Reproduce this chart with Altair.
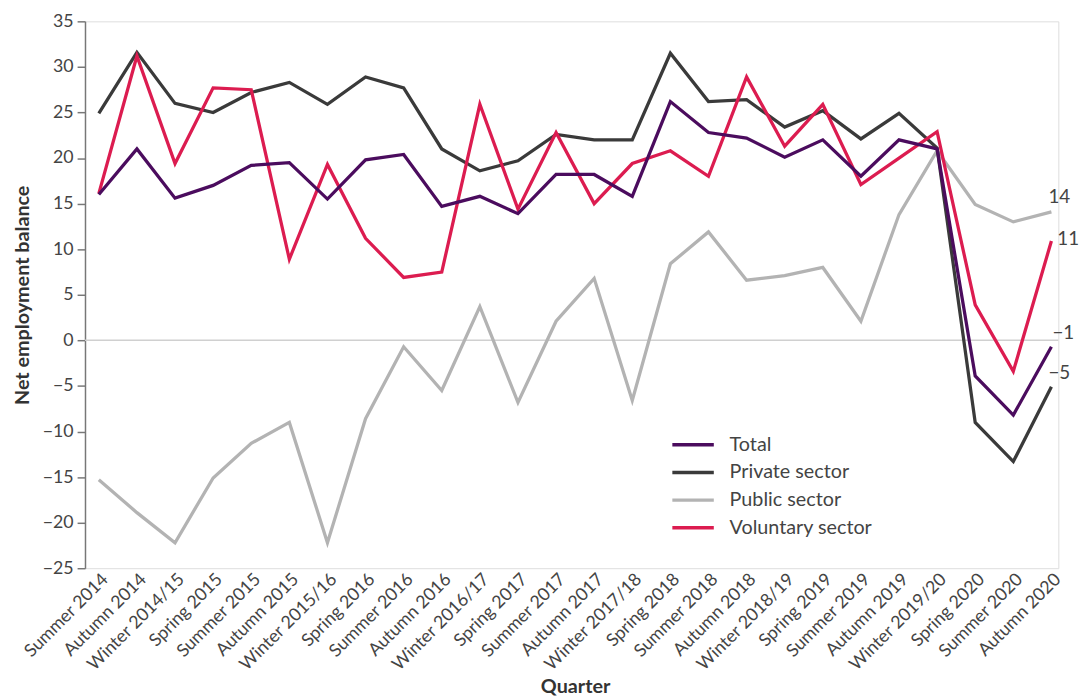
import altair as alt
import pandas as pd

quarters = ["Summer 2014", "Autumn 2014", "Winter 2014/15", "Spring 2015", "Summer 2015",
            "Autumn 2015", "Winter 2015/16", "Spring 2016", "Summer 2016", "Autumn 2016",
            "Winter 2016/17", "Spring 2017", "Summer 2017", "Autumn 2017", "Winter 2017/18",
            "Spring 2018", "Summer 2018", "Autumn 2018", "Winter 2018/19", "Spring 2019",
            "Summer 2019", "Autumn 2019", "Winter 2019/20", "Spring 2020", "Summer 2020",
            "Autumn 2020"]

total = [16.0, 21.0, 15.6, 17.0, 19.2, 19.5, 15.5, 19.8, 20.4, 14.7, 15.8, 13.9, 18.2,
         18.2, 15.8, 26.2, 22.8, 22.2, 20.1, 22.0, 18.0, 22.0, 21.0, -3.9, -8.2, -0.7]
private = [24.9, 31.6, 26.0, 25.0, 27.2, 28.3, 25.9, 28.9, 27.7, 21.0, 18.6, 19.7, 22.6,
           22.0, 22.0, 31.5, 26.2, 26.4, 23.4, 25.2, 22.1, 24.9, 21.1, -9.0, -13.3, -5.1]
public = [-15.3, -18.9, -22.2, -15.1, -11.3, -9.0, -22.2, -8.6, -0.7, -5.5, 3.7, -6.8, 2.1,
          6.8, -6.6, 8.4, 11.9, 6.6, 7.1, 8.0, 2.1, 13.8, 20.8, 14.9, 13.0, 14.1]
voluntary = [16.1, 31.2, 19.4, 27.7, 27.5, 8.9, 19.3, 11.2, 6.9, 7.5, 25.9, 14.4, 22.8,
             15.0, 19.4, 20.8, 18.0, 28.9, 21.3, 25.9, 17.1, 20.0, 22.9, 3.9, -3.4, 10.9]

series_names = ["Total", "Private sector", "Public sector", "Voluntary sector"]
series_values = [total, private, public, voluntary]
series_colors = ["#4b0c5e", "#3a3a3a", "#b3b3b3", "#dc1c50"]

rows = []
for name, vals in zip(series_names, series_values):
    for q, v in zip(quarters, vals):
        rows.append({"Quarter": q, "Series": name, "Value": v})
df = pd.DataFrame(rows)

FONT = "Lato"
TEXT_COLOR = "#444444"

x_enc = alt.X("Quarter:N", sort=quarters, title="Quarter",
              scale=alt.Scale(type="point", range=[14, 979], padding=0),
              axis=alt.Axis(labelAngle=-45, ticks=False, domain=False,
                            labelFontSize=18, labelColor=TEXT_COLOR, labelFont=FONT,
                            labelPadding=2,
                            titleFontSize=20, titleFont=FONT, titleColor="#333333",
                            titleFontWeight="bold", titlePadding=3))
y_enc = alt.Y("Value:Q", title="Net employment balance",
              scale=alt.Scale(domain=[-25, 35], nice=False, zero=False),
              axis=alt.Axis(values=list(range(-25, 36, 5)), grid=False,
                            tickSize=8, tickColor="#777777", domainColor="#777777",
                            tickWidth=1.5, domainWidth=1.5,
                            labelFontSize=18, labelColor=TEXT_COLOR, labelFont=FONT,
                            labelPadding=4,
                            titleFontSize=20, titleFont=FONT, titleColor="#333333",
                            titleFontWeight="bold", titlePadding=10))
color_enc = alt.Color("Series:N",
                      scale=alt.Scale(domain=series_names, range=series_colors),
                      legend=alt.Legend(title=None, orient="none", legendX=593, legendY=415,
                                        symbolType="stroke", symbolStrokeWidth=3.5,
                                        symbolSize=1764, labelFontSize=20, labelFont=FONT,
                                        labelColor=TEXT_COLOR, labelOffset=14,
                                        clipHeight=28, rowPadding=0, padding=0))

zero = alt.Chart(pd.DataFrame({"z": [0]})).mark_rule(color="#d0d0d0", strokeWidth=1.5).encode(y="z:Q")

draw_order = ["Public sector", "Private sector", "Voluntary sector", "Total"]
lines = []
for s in draw_order:
    lines.append(
        alt.Chart(df).transform_filter(alt.datum.Series == s)
        .mark_line(strokeWidth=3.3, strokeJoin="miter")
        .encode(x=x_enc, y=y_enc, color=color_enc)
    )

label_offsets = {"Public sector": (8, -15), "Voluntary sector": (17, -2),
                 "Total": (12, -14), "Private sector": (8, -14)}
labels = []
for s, (dx, dy) in label_offsets.items():
    labels.append(
        alt.Chart(df).transform_filter((alt.datum.Series == s) & (alt.datum.Quarter == quarters[-1]))
        .mark_text(dx=dx, dy=dy, fontSize=19, font=FONT, color=TEXT_COLOR, align="center")
        .encode(x=alt.X("Quarter:N", sort=quarters), y="Value:Q", text=alt.Text("Value:Q", format=".0f"))
    )

chart = alt.layer(zero, *lines, *labels).properties(
    width=986, height=554, padding={"left": 4, "top": 0, "right": 3, "bottom": 0}
).configure_view(stroke=None).configure(font=FONT)

chart.save("out.html", embed_options={"renderer": "svg", "actions": False})
